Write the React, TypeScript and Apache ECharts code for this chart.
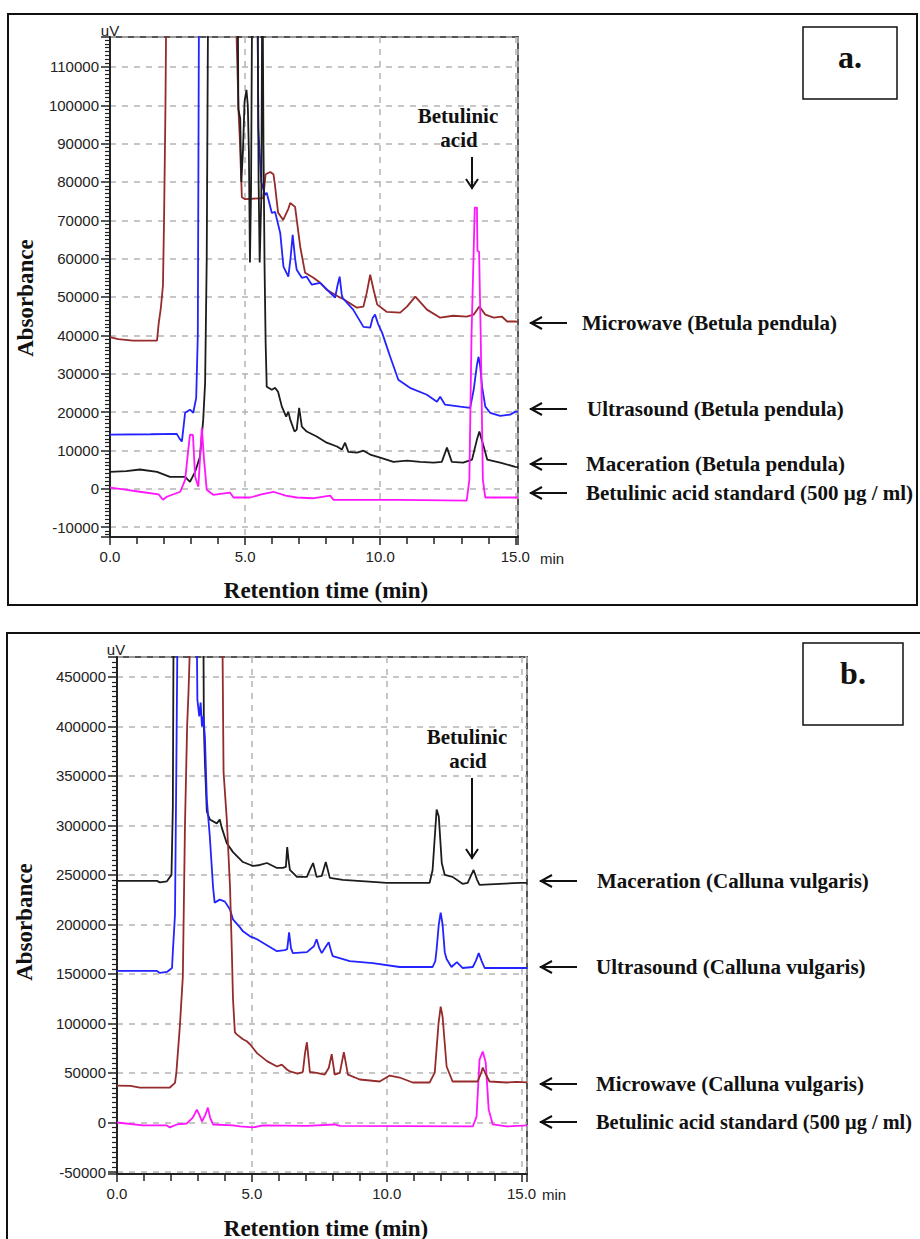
import React, { useEffect, useRef } from 'react';
import * as echarts from 'echarts';

type Pt = [number, number];

// ---- Panel a: Betula pendula extracts (retention time in min, signal in uV) ----
const betulaMicrowave: Pt[] = [
  [0, 39500], [0.3, 39000], [0.85, 38600], [1.74, 38600], [1.8, 43000], [1.88, 47000], [1.96, 53000],
  [2.0, 70000], [2.05, 98000], [2.1, 140000], [4.6, 140000], [4.76, 98000], [4.8, 92000], [4.88, 76000],
  [5.0, 75500], [5.67, 75800], [5.76, 82000], [5.93, 82600], [6.05, 82000], [6.1, 79500], [6.22, 72000],
  [6.41, 70100], [6.6, 73000], [6.67, 74500], [6.85, 73500], [7.04, 63100], [7.22, 56300], [7.53, 55000],
  [7.78, 53700], [8.02, 51900], [8.52, 49800], [8.63, 49500], [9.14, 47200], [9.38, 47500], [9.5, 51000],
  [9.63, 55800], [9.75, 52000], [9.89, 48000], [10.25, 46100], [10.74, 45900], [10.99, 47500], [11.3, 50100],
  [11.73, 46700], [12.22, 44600], [12.7, 45100], [13.2, 44900], [13.46, 45400], [13.67, 47500], [13.89, 45400],
  [14.2, 44600], [14.5, 44900], [14.7, 43600], [15.0, 43600], [15.1, 43500],
];
const betulaUltrasound: Pt[] = [
  [0, 14100], [1.5, 14200], [2.47, 14300], [2.58, 13000], [2.66, 12300], [2.72, 16000], [2.78, 19800],
  [2.96, 20600], [3.08, 19800], [3.19, 23700], [3.25, 40000], [3.3, 140000], [5.45, 140000], [5.49, 94000],
  [5.52, 90000], [5.6, 80000], [5.74, 76600], [5.8, 77200], [5.99, 71900], [6.11, 72200], [6.3, 66700],
  [6.42, 57900], [6.6, 55300], [6.68, 60000], [6.76, 66200], [6.85, 60000], [6.91, 57100], [7.1, 55000],
  [7.28, 55300], [7.47, 53200], [7.78, 53700], [8.15, 51100], [8.33, 49800], [8.42, 53000], [8.5, 55300],
  [8.57, 51000], [8.6, 49800], [9.0, 46700], [9.38, 42200], [9.63, 42000], [9.72, 44500], [9.81, 45400],
  [9.92, 43000], [10.07, 40700], [10.37, 34400], [10.67, 28400], [11.1, 26300], [11.73, 24500], [12.1, 22700],
  [12.22, 24000], [12.4, 21900], [12.96, 21400], [13.33, 21100], [13.46, 25800], [13.58, 32300], [13.64, 34400],
  [13.7, 32000], [13.77, 26600], [13.89, 21400], [14.07, 19800], [14.44, 19000], [14.81, 19300], [15.0, 20100],
  [15.1, 20100],
];
const betulaMaceration: Pt[] = [
  [0, 4400], [0.6, 4600], [1.11, 5000], [1.74, 4400], [2.22, 3100], [2.78, 3100], [2.96, 1800], [3.15, 4400],
  [3.33, 8300], [3.45, 18000], [3.52, 27600], [3.58, 60000], [3.64, 140000], [4.72, 140000], [4.75, 99000],
  [4.82, 96500], [4.86, 80000], [4.92, 88000], [4.98, 101000], [5.05, 104000], [5.1, 100000], [5.14, 88000],
  [5.18, 59000], [5.22, 78000], [5.27, 140000], [5.45, 140000], [5.5, 80000], [5.54, 59000], [5.6, 76000],
  [5.64, 140000], [5.68, 90000], [5.72, 58000], [5.76, 38000], [5.8, 26600], [5.99, 25800], [6.11, 26300],
  [6.22, 25300], [6.36, 21400], [6.52, 18800], [6.6, 20100], [6.67, 18000], [6.83, 14900], [6.91, 15400],
  [7.0, 21100], [7.1, 16200], [7.28, 14900], [7.65, 13600], [8.02, 12000], [8.4, 11000], [8.58, 10200],
  [8.7, 12000], [8.82, 9600], [9.14, 9400], [9.38, 9900], [9.63, 8900], [10.0, 8100], [10.49, 7000],
  [10.99, 7300], [11.48, 7000], [11.98, 6800], [12.28, 7000], [12.47, 10700], [12.65, 7000], [13.07, 6800],
  [13.4, 7600], [13.58, 12800], [13.67, 14900], [13.83, 11000], [13.96, 7600], [14.44, 6800], [15.0, 5700],
  [15.1, 5600],
];
const betulaStandard: Pt[] = [
  [0, 300], [0.5, -200], [1.1, -800], [1.8, -1500], [1.96, -2900], [2.1, -2100], [2.6, -800], [2.78, 2300],
  [2.88, 9000], [2.96, 14100], [3.07, 14000], [3.15, 3100], [3.27, 500], [3.34, 9000], [3.4, 15900],
  [3.48, 7600], [3.58, -300], [3.82, -1600], [4.44, -1000], [4.57, -2300], [5.19, -2300], [5.6, -1500],
  [6.05, -800], [6.5, -1800], [6.91, -2300], [7.5, -2500], [8.15, -1800], [8.27, -2900], [10.74, -2900],
  [13.2, -3100], [13.3, 2300], [13.38, 40000], [13.5, 73300], [13.58, 73300], [13.6, 62000], [13.66, 61800],
  [13.72, 40000], [13.8, 2300], [13.89, -2300], [15.0, -2300], [15.1, -2300],
];

// ---- Panel b: Calluna vulgaris extracts ----
const callunaMaceration: Pt[] = [
  [0, 244000], [1.48, 244000], [1.59, 242500], [1.85, 243500], [2.02, 250000], [2.07, 318000], [2.1, 520000],
  [3.2, 520000], [3.22, 400000], [3.26, 363000], [3.33, 314000], [3.44, 306000], [3.7, 302000], [3.81, 306000],
  [3.88, 298000], [4.07, 282000], [4.3, 273000], [4.67, 263000], [5.04, 259000], [5.3, 260000], [5.56, 262000],
  [5.93, 257000], [6.15, 257000], [6.26, 258000], [6.31, 278000], [6.36, 265000], [6.41, 255000], [6.67, 248000],
  [7.04, 248000], [7.15, 255000], [7.27, 262000], [7.4, 248000], [7.59, 249000], [7.74, 263000], [7.89, 247000],
  [8.37, 245000], [9.48, 243000], [9.99, 242000], [11.59, 242000], [11.7, 255000], [11.78, 288000],
  [11.85, 316000], [11.93, 309000], [12.04, 262000], [12.15, 250000], [12.44, 248000], [12.81, 241000],
  [13.0, 242000], [13.22, 255000], [13.35, 245000], [13.44, 240000], [14.93, 242000], [15.2, 242000],
];
const callunaUltrasound: Pt[] = [
  [0, 153000], [1.48, 153000], [1.59, 151000], [1.85, 152000], [2.04, 156000], [2.07, 172000], [2.15, 210000],
  [2.2, 359000], [2.25, 520000], [2.95, 520000], [2.98, 427000], [3.05, 410000], [3.1, 424000], [3.15, 400000],
  [3.2, 410000], [3.26, 389000], [3.33, 326000], [3.44, 289000], [3.56, 238000], [3.62, 222000], [3.81, 225000],
  [4.0, 223000], [4.19, 215000], [4.3, 205000], [4.56, 197000], [4.67, 193000], [4.93, 188000], [5.19, 185000],
  [5.56, 179000], [5.93, 173000], [6.22, 174000], [6.31, 175000], [6.38, 192000], [6.45, 176000], [6.52, 171000],
  [7.04, 172000], [7.3, 178000], [7.4, 185000], [7.5, 176000], [7.59, 171000], [7.75, 178000], [7.85, 182000],
  [7.95, 172000], [8.0, 168000], [8.63, 163000], [9.48, 161000], [10.48, 157000], [11.7, 157000],
  [11.8, 163000], [11.85, 175000], [11.93, 200000], [12.0, 212000], [12.07, 200000], [12.15, 172000],
  [12.22, 165000], [12.4, 157000], [12.6, 162000], [12.81, 156000], [13.19, 157000], [13.3, 163000],
  [13.41, 171000], [13.52, 163000], [13.63, 156000], [14.93, 156000], [15.2, 156000],
];
const callunaMicrowave: Pt[] = [
  [0, 37300], [0.5, 37000], [0.85, 35300], [1.96, 35300], [2.15, 40000], [2.2, 50000], [2.33, 97000],
  [2.44, 147000], [2.52, 300000], [2.6, 400000], [2.65, 434000], [2.75, 520000], [3.9, 520000], [3.95, 354000],
  [4.07, 306000], [4.19, 238000], [4.26, 170000], [4.3, 125000], [4.37, 91000], [4.44, 89000], [4.67, 84000],
  [4.81, 82000], [4.93, 79000], [5.19, 70000], [5.56, 62000], [5.93, 56500], [6.11, 58500], [6.3, 53500],
  [6.41, 51500], [6.7, 49400], [6.89, 51000], [6.97, 70000], [7.04, 81000], [7.1, 65000], [7.15, 51000],
  [7.4, 50000], [7.7, 48400], [7.85, 55000], [7.96, 69000], [8.07, 48400], [8.26, 50000], [8.41, 71000],
  [8.56, 48400], [9.0, 43400], [9.74, 41400], [10.11, 47400], [10.48, 45400], [10.96, 40400], [11.59, 40400],
  [11.78, 50400], [11.92, 100000], [12.0, 117000], [12.07, 107000], [12.22, 56500], [12.44, 41400],
  [12.96, 41400], [13.37, 41400], [13.5, 50000], [13.56, 55500], [13.65, 50000], [13.81, 41400], [14.44, 40400],
  [14.81, 41000], [15.2, 40500],
];
const callunaStandard: Pt[] = [
  [0, 0], [0.96, -3000], [1.85, -3000], [1.96, -5000], [2.22, -2000], [2.59, -1000], [2.81, 5000],
  [2.96, 13000], [3.05, 8000], [3.15, 1000], [3.28, 8000], [3.37, 15000], [3.45, 5000], [3.56, -2000],
  [4.3, -3000], [4.56, -4000], [5.04, -5000], [5.41, -3000], [7.04, -3500], [8.07, -2000], [8.26, -3500],
  [13.19, -4000], [13.33, 6000], [13.44, 63500], [13.56, 71600], [13.67, 60500], [13.78, 13000], [13.93, -2000],
  [14.44, -4000], [15.2, -3000],
];

const legendA = [
  'Microwave (Betula pendula)',
  'Ultrasound (Betula pendula)',
  'Maceration (Betula pendula)',
  'Betulinic acid standard (500 µg / ml)',
];
const legendB = [
  'Maceration (Calluna vulgaris)',
  'Ultrasound (Calluna vulgaris)',
  'Microwave (Calluna vulgaris)',
  'Betulinic acid standard (500 µg / ml)',
];

const BROWN = '#962b2b';
const BLUE = '#2323ff';
const BLACK = '#1c1c1c';
const MAGENTA = '#ff16ff';

const SERIF = '"Liberation Serif", "Times New Roman", serif';
const SANS = '"Liberation Sans", Arial, sans-serif';
const GRID_DASH = [6, 6];

function xAxisOf(gridIndex: number, max: number) {
  return {
    type: 'value',
    gridIndex,
    min: 0,
    max,
    interval: 5,
    axisLine: { show: true, onZero: false, lineStyle: { color: '#222', width: 2 } },
    axisTick: { show: true, length: 8, lineStyle: { color: '#222', width: 1.5 } },
    minorTick: { show: true, splitNumber: 5, length: 7, lineStyle: { color: '#222', width: 1.5 } },
    axisLabel: {
      margin: 12,
      fontSize: 15,
      fontFamily: SANS,
      color: '#222',
      showMaxLabel: false,
      formatter: (v: number) => (Math.abs(v / 5 - Math.round(v / 5)) < 1e-6 ? v.toFixed(1) : ''),
    },
    splitLine: { show: true, lineStyle: { type: GRID_DASH, color: '#b4b4b4', width: 1.5 } },
  };
}

function yAxisOf(gridIndex: number, min: number, max: number, splitNumber: number, step: number) {
  return {
    type: 'value',
    gridIndex,
    min,
    max,
    splitNumber,
    axisLine: { show: true, onZero: false, lineStyle: { color: '#222', width: 2 } },
    axisTick: { show: true, length: 9, lineStyle: { color: '#222', width: 1.5 } },
    minorTick: { show: true, splitNumber: 10, length: 5, lineStyle: { color: '#222', width: 1.2 } },
    axisLabel: {
      margin: 11,
      fontSize: 15,
      fontFamily: SANS,
      color: '#222',
      formatter: (v: number) => (Math.abs(v / step - Math.round(v / step)) < 1e-6 ? String(Math.round(v)) : ''),
    },
    splitLine: { show: true, lineStyle: { type: GRID_DASH, color: '#b4b4b4', width: 1.5 } },
  };
}

function trace(data: Pt[], color: string, axis: number, z: number) {
  return {
    type: 'line',
    data,
    xAxisIndex: axis,
    yAxisIndex: axis,
    showSymbol: false,
    symbol: 'none',
    clip: true,
    silent: true,
    z,
    lineStyle: { color, width: 1.8 },
    itemStyle: { color },
  };
}

function label(text: string, x: number, y: number, size: number, align = 'left', rotation = 0) {
  return {
    type: 'text',
    x,
    y,
    rotation,
    z: 20,
    style: {
      text,
      fontFamily: SERIF,
      fontWeight: 'bold',
      fontSize: size,
      fill: '#111',
      align,
      verticalAlign: 'middle',
    },
  };
}

function sansLabel(text: string, x: number, y: number) {
  return {
    type: 'text',
    x,
    y,
    z: 20,
    style: { text, fontFamily: SANS, fontSize: 15, fill: '#222', align: 'center', verticalAlign: 'middle' },
  };
}

function leftArrow(x0: number, x1: number, y: number) {
  return [
    { type: 'line', z: 20, shape: { x1: x0, y1: y, x2: x1, y2: y }, style: { stroke: '#111', lineWidth: 2 } },
    {
      type: 'polyline',
      z: 20,
      shape: { points: [[x0 + 12, y - 6], [x0 + 1, y], [x0 + 12, y + 6]] },
      style: { stroke: '#111', lineWidth: 2, fill: null },
    },
  ];
}

function downArrow(x: number, y0: number, y1: number) {
  return [
    { type: 'line', z: 20, shape: { x1: x, y1: y0, x2: x, y2: y1 }, style: { stroke: '#111', lineWidth: 2 } },
    {
      type: 'polyline',
      z: 20,
      shape: { points: [[x - 6, y1 - 10], [x, y1 - 1], [x + 6, y1 - 10]] },
      style: { stroke: '#111', lineWidth: 2, fill: null },
    },
  ];
}

function box(x: number, y: number, w: number, h: number, lw: number) {
  return { type: 'rect', z: 15, shape: { x, y, width: w, height: h }, style: { stroke: '#111', lineWidth: lw, fill: null } };
}

export default function App() {
  const ref = useRef<HTMLDivElement>(null);

  useEffect(() => {
    if (!ref.current) return;
    const chart = echarts.init(ref.current, null, { renderer: 'svg' });

    const legendRowsA = [323, 409, 464, 493];
    const legendTextXA = [582, 587, 586, 586];
    const legendRowsB = [881, 967, 1084, 1122];
    const legendTextXB = [597, 596, 596, 596];
    const legendSizeB = [21, 21, 21, 20.3];

    const graphics: any[] = [
      box(8, 14, 909, 591, 2),
      box(7, 633, 940, 700, 2),
      box(803, 27, 94, 72, 1.5),
      box(803, 643, 100, 82, 1.5),
      label('a.', 850, 57, 32, 'center'),
      label('b.', 853, 673, 32, 'center'),
      sansLabel('uV', 110, 30),
      sansLabel('uV', 116, 649),
      sansLabel('min', 552, 558),
      sansLabel('min', 554, 1194),
      label('Absorbance', 25, 298, 23, 'center', Math.PI / 2),
      label('Absorbance', 24, 922, 23, 'center', Math.PI / 2),
      label('Retention time (min)', 326, 590, 23, 'center'),
      label('Retention time (min)', 326, 1228, 23, 'center'),
      label('Betulinic', 458, 116, 21, 'center'),
      label('acid', 459, 140, 21, 'center'),
      ...downArrow(472, 157, 189),
      label('Betulinic', 467, 737, 21, 'center'),
      label('acid', 468, 761, 21, 'center'),
      ...downArrow(472, 778, 859),
    ];
    legendA.forEach((t, i) => {
      graphics.push(...leftArrow(530, 567, legendRowsA[i]));
      graphics.push(label(t, legendTextXA[i], legendRowsA[i], 21));
    });
    legendB.forEach((t, i) => {
      graphics.push(...leftArrow(540, 577, legendRowsB[i]));
      graphics.push(label(t, legendTextXB[i], legendRowsB[i], legendSizeB[i]));
    });

    chart.setOption({
      animation: false,
      backgroundColor: '#ffffff',
      grid: [
        { left: 110, top: 37, width: 408, height: 500, show: true, borderColor: '#555', borderWidth: 2, outerBoundsMode: 'none' },
        { left: 117, top: 657, width: 410, height: 517, show: true, borderColor: '#555', borderWidth: 2, outerBoundsMode: 'none' },
      ],
      xAxis: [xAxisOf(0, 15.1), xAxisOf(1, 15.2)],
      yAxis: [yAxisOf(0, -12600, 117800, 13, 10000), yAxisOf(1, -52000, 470000, 10, 50000)],
      series: [
        trace(betulaMicrowave, BROWN, 0, 2),
        trace(betulaUltrasound, BLUE, 0, 3),
        trace(betulaMaceration, BLACK, 0, 4),
        trace(betulaStandard, MAGENTA, 0, 5),
        trace(callunaStandard, MAGENTA, 1, 2),
        trace(callunaMaceration, BLACK, 1, 3),
        trace(callunaUltrasound, BLUE, 1, 4),
        trace(callunaMicrowave, BROWN, 1, 5),
      ],
      graphic: graphics,
    });

    return () => chart.dispose();
  }, []);

  return (
    <div
      ref={ref}
      style={{ position: 'fixed', left: 0, top: 0, width: 920, height: 1239, background: '#fff' }}
    />
  );
}
